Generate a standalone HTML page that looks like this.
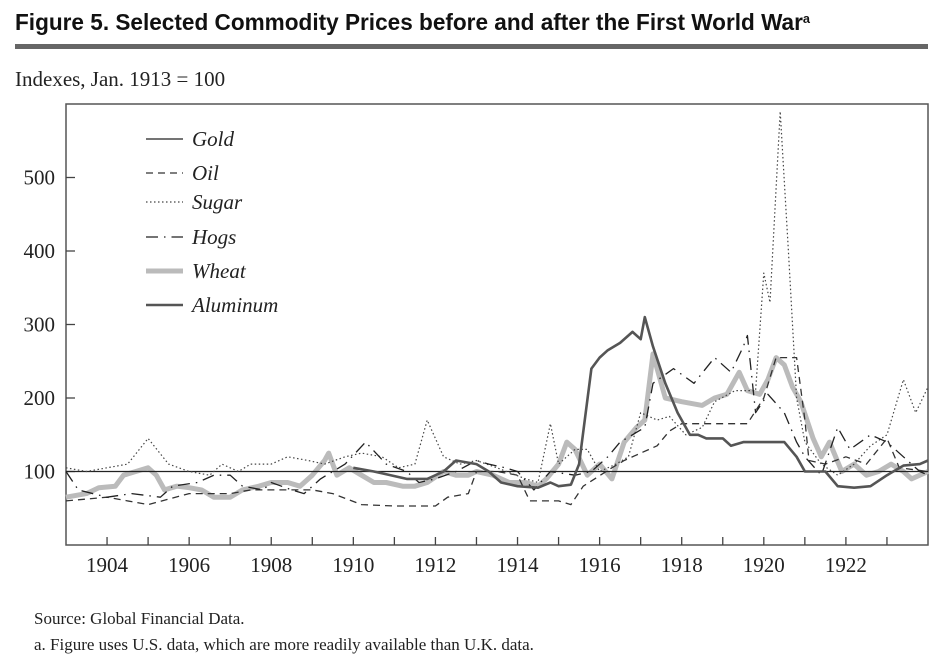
<!DOCTYPE html>
<html><head><meta charset="utf-8"><style>
html,body{margin:0;padding:0;background:#fff;}
svg{display:block;font-family:"Liberation Serif",serif;}
</style></head><body>
<svg id="chart" width="938" height="664" viewBox="0 0 938 664" xmlns="http://www.w3.org/2000/svg">
<text x="15" y="30" font-family="Liberation Sans, sans-serif" font-weight="bold" font-size="23" textLength="795" lengthAdjust="spacingAndGlyphs" fill="#111">Figure 5.  Selected Commodity Prices before and after the First World War<tspan font-size="13" dy="-7">a</tspan></text>
<rect x="15" y="44" width="913" height="5" fill="#666"/>
<text x="15" y="86" font-size="21" fill="#222">Indexes, Jan. 1913 = 100</text>
<rect x="66" y="104" width="862" height="441" fill="none" stroke="#555" stroke-width="1.5"/>
<g id="ticks"></g>
<g id="series"></g>
<g id="legend"></g>
<text x="34" y="624" font-size="17" fill="#222">Source: Global Financial Data.</text>
<text x="34" y="650" font-size="17" fill="#222">a. Figure uses U.S. data, which are more readily available than U.K. data.</text>
</svg>
<script>
const yTicks=[100,200,300,400,500];
const xLabels=[1904,1906,1908,1910,1912,1914,1916,1918,1920,1922];
const goldT=[1903,1924];
const goldV=[100,100];
const oilT=[1903,1904,1905,1906,1907,1907.5,1909,1909.5,1910.2,1911,1912,1912.3,1912.8,1913,1913.5,1914,1914.3,1915,1915.3,1915.6,1916.3,1916.6,1917,1917.4,1917.7,1918,1919,1919.6,1920,1920.3,1920.8,1921,1921.1,1921.5,1922,1922.5,1923,1923.3,1924];
const oilV=[60,65,55,70,70,75,75,70,55,53,53,65,70,100,100,95,60,60,55,80,105,115,125,135,155,165,165,165,200,255,255,170,115,110,120,110,145,105,100];
const sugarT=[1903,1903.5,1904,1904.5,1905,1905.5,1906,1906.5,1906.8,1907.2,1907.5,1908,1908.4,1908.9,1909.3,1909.8,1910.2,1910.7,1911.1,1911.5,1911.8,1912.2,1912.6,1913,1913.5,1914.2,1914.5,1914.8,1915,1915.4,1915.7,1916,1916.4,1916.7,1917,1917.4,1917.7,1918.1,1918.5,1918.8,1919.3,1919.8,1920,1920.15,1920.4,1920.6,1920.8,1921,1921.4,1921.8,1922.2,1922.6,1923,1923.4,1923.7,1924];
const sugarV=[105,100,105,110,145,110,100,95,110,100,110,110,120,115,110,120,125,120,105,110,170,120,110,115,105,90,85,165,110,130,130,100,110,120,180,170,175,150,160,195,210,210,370,330,590,400,200,140,110,95,110,135,150,225,180,215];
const hogsT=[1903,1903.3,1904,1904.6,1905.3,1905.6,1906.2,1906.6,1907,1907.3,1907.8,1908,1908.5,1908.8,1909.2,1909.8,1910.3,1910.8,1911.3,1911.6,1912,1912.5,1913,1913.3,1913.7,1914,1914.4,1914.8,1915.4,1915.8,1916.2,1916.5,1916.8,1917.1,1917.3,1917.8,1918.3,1918.8,1919.2,1919.5,1919.6,1919.8,1920.1,1920.5,1920.8,1921,1921.4,1921.8,1922.1,1922.6,1923,1923.4,1923.8,1924];
const hogsV=[100,75,65,70,65,80,85,95,95,80,75,85,75,70,90,110,140,110,100,85,90,100,115,110,105,100,75,100,95,100,120,140,150,160,220,240,220,255,235,270,285,180,205,180,140,120,95,160,130,150,140,120,100,95];
const wheatT=[1903,1903.5,1903.8,1904.2,1904.4,1904.7,1905,1905.2,1905.4,1905.7,1906,1906.3,1906.6,1907,1907.3,1907.7,1908,1908.4,1908.7,1909,1909.3,1909.4,1909.6,1909.9,1910.2,1910.5,1910.8,1911.2,1911.5,1911.8,1912.2,1912.5,1912.8,1913,1913.4,1913.8,1914.2,1914.5,1914.7,1915,1915.2,1915.4,1915.7,1916,1916.3,1916.6,1916.9,1917.1,1917.3,1917.6,1918,1918.5,1918.8,1919.1,1919.4,1919.6,1919.9,1920.1,1920.3,1920.5,1920.7,1920.9,1921.2,1921.4,1921.6,1921.9,1922.2,1922.5,1922.8,1923.1,1923.4,1923.6,1924];
const wheatV=[65,70,78,80,95,100,105,95,75,80,78,75,65,65,75,80,85,85,80,95,115,125,95,105,95,85,85,80,80,85,100,95,95,100,95,85,85,80,90,110,140,130,95,110,90,140,160,170,260,200,195,190,200,205,235,210,205,225,255,245,215,195,145,120,140,100,110,95,100,110,100,90,100];
const aluT=[1910,1910.5,1911.3,1911.8,1912.2,1912.5,1913,1913.3,1913.6,1914,1914.5,1914.8,1915,1915.3,1915.5,1915.8,1916,1916.2,1916.5,1916.8,1917,1917.1,1917.3,1917.6,1917.9,1918.2,1918.4,1918.6,1919,1919.2,1919.5,1920,1920.5,1920.8,1921,1921.5,1921.8,1922.2,1922.6,1923,1923.4,1923.8,1924];
const aluV=[105,100,90,90,100,115,110,100,85,80,78,85,80,82,110,240,255,265,275,290,280,310,270,220,180,150,150,145,145,135,140,140,140,120,100,100,80,78,80,95,108,110,115];

const NS="http://www.w3.org/2000/svg";
const X0=66,X1=928,Y0=545,Y1=104;
function xs(t){return X0+(t-1903)/(1924-1903)*(X1-X0);}
function ys(v){return Y0-v*0.735;}
function mk(tag,attrs,parent){const e=document.createElementNS(NS,tag);for(const k in attrs)e.setAttribute(k,attrs[k]);parent.appendChild(e);return e;}
const tg=document.getElementById('ticks');
yTicks.forEach(v=>{
  const l=mk('line',{x1:X0,x2:X0+9,y1:ys(v),y2:ys(v),stroke:'#444','stroke-width':1.3},tg);
  
  
  const t=mk('text',{x:X0-11,y:ys(v)+7,'text-anchor':'end','font-size':21,fill:'#222'},tg);
  t.textContent=v;
  
  
});
for(let yr=1904;yr<=1923;yr++){
  const l=mk('line',{x1:xs(yr),x2:xs(yr),y1:Y0,y2:Y0-8,stroke:'#444','stroke-width':1.3},tg);
  
  
}
xLabels.forEach(yr=>{
  const t=mk('text',{x:xs(yr),y:572,'text-anchor':'middle','font-size':21,fill:'#222'},tg);
  t.textContent=yr;
  
  
});
const sg=document.getElementById('series');
function draw(T,V,style,name){
  const d=T.map((t,i)=>(i?'L':'M')+xs(t).toFixed(1)+','+ys(V[i]).toFixed(1)).join('');
  const p=mk('path',Object.assign({d:d,fill:'none','stroke-linejoin':'round'},style),sg);
  
  
}
const styles={
 wheat:{stroke:'#bbb','stroke-width':5},
 gold:{stroke:'#222','stroke-width':1.2},
 oil:{stroke:'#333','stroke-width':1.3,'stroke-dasharray':'7 5'},
 sugar:{stroke:'#444','stroke-width':1.2,'stroke-dasharray':'1.5 2.5'},
 hogs:{stroke:'#222','stroke-width':1.3,'stroke-dasharray':'12 6 1.5 6'},
 alu:{stroke:'#555','stroke-width':2.6}
};
draw(wheatT,wheatV,styles.wheat,'wheat-line');
draw(goldT,goldV,styles.gold,'gold-line');
draw(oilT,oilV,styles.oil,'oil-line');
draw(sugarT,sugarV,styles.sugar,'sugar-line');
draw(hogsT,hogsV,styles.hogs,'hogs-line');
draw(aluT,aluV,styles.alu,'aluminum-line');
const lg=document.getElementById('legend');
const items=[['Gold','gold',139],['Oil','oil',173],['Sugar','sugar',202],['Hogs','hogs',237],['Wheat','wheat',271],['Aluminum','alu',305]];
items.forEach(it=>{
  const l=mk('line',Object.assign({x1:146,x2:183,y1:it[2],y2:it[2]},styles[it[1]]),lg);
  
  
  const t=mk('text',{x:192,y:it[2]+7,'font-size':21,'font-style':'italic',fill:'#222'},lg);
  t.textContent=it[0];
  
  
});
</script>
</body></html>
